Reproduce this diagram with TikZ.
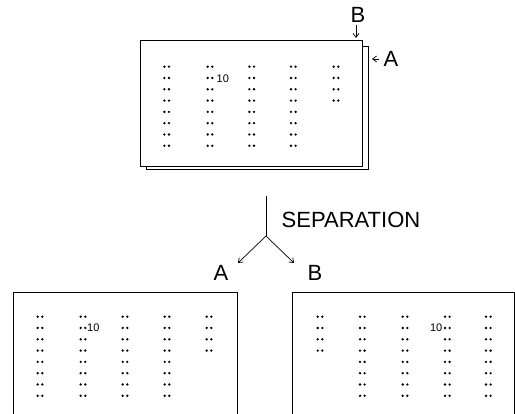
\documentclass[tikz,border=0pt]{standalone}
\usepackage{fontspec}
\setmainfont{Liberation Sans}
\usetikzlibrary{arrows.meta}
\tikzset{
  sheet/.style={draw=black, line width=0.9pt, fill=white},
  big/.style={font=\fontsize{22}{22}\selectfont, inner sep=0pt},
  small/.style={font=\fontsize{11}{11}\selectfont, inner sep=0pt},
  pointer/.style={line width=0.7pt, -{Straight Barb[length=4pt,width=6pt]}},
}
% a column of dot pairs: x centre, first row y, number of rows
\newcommand{\dotcol}[3]{%
  \foreach \r in {1,...,#3}{%
    \fill ({#1-2.3},{#2+(\r-1)*11.3}) circle (1.3);
    \fill ({#1+2.3},{#2+(\r-1)*11.3}) circle (1.3);
  }}
\begin{document}
\begin{tikzpicture}[x=1pt,y=-1pt]
\useasboundingbox (0,0) rectangle (515,414);

% stacked sheets A and B
\draw[sheet] (146,46) rectangle (368,169);
\draw[sheet] (140,40) rectangle (362,166);
\dotcol{166.7}{66.7}{8}
\dotcol{210}{66.7}{8}
\dotcol{251.7}{66.7}{8}
\dotcol{293.3}{66.7}{8}
\dotcol{336}{66.7}{4}
\node[small, anchor=west] (t10) at (216.5,79) {10};

\node[big] (tB) at (358,15) {B};
\coordinate (tBend) at (356,38);
\draw[pointer] (tB.south) ++(-2,2) -- (tBend);
\node[big] (tA) at (391,59) {A};
\coordinate (tAend) at (372,59);
\draw[pointer] (tA.west) ++(-4,0) -- (tAend);

% separation fork
\coordinate (stem) at (266,196);
\coordinate (fork) at (266,236);
\draw[line width=0.7pt] (stem) -- (fork);
\node[big] (sep) at (351,220) {SEPARATION};
\coordinate (la) at (238,263);
\coordinate (lb) at (294,263);
\draw[pointer] (fork) -- (la);
\draw[pointer] (fork) -- (lb);
\node[big] (sA) at (221,273) {A};
\node[big] (sB) at (315,273) {B};

% sheet A after separation
\draw[line width=0.9pt] (13,414) -- (13,292) -- (237,292) -- (237,414);
\dotcol{40}{316.7}{8}
\dotcol{83}{316.7}{8}
\dotcol{125}{316.7}{8}
\dotcol{167}{316.7}{8}
\dotcol{209}{316.7}{4}
\node[small, anchor=west] (a10) at (87,328) {10};

% sheet B after separation
\draw[line width=0.9pt] (292.7,414) -- (292.7,292) -- (514,292) -- (514,414);
\dotcol{320}{316.7}{4}
\dotcol{362.3}{316.7}{8}
\dotcol{405}{316.7}{8}
\dotcol{447.3}{316.7}{8}
\dotcol{488.3}{316.7}{8}
\node[small, anchor=east] (b10) at (442.5,328) {10};
\end{tikzpicture}
\end{document}
